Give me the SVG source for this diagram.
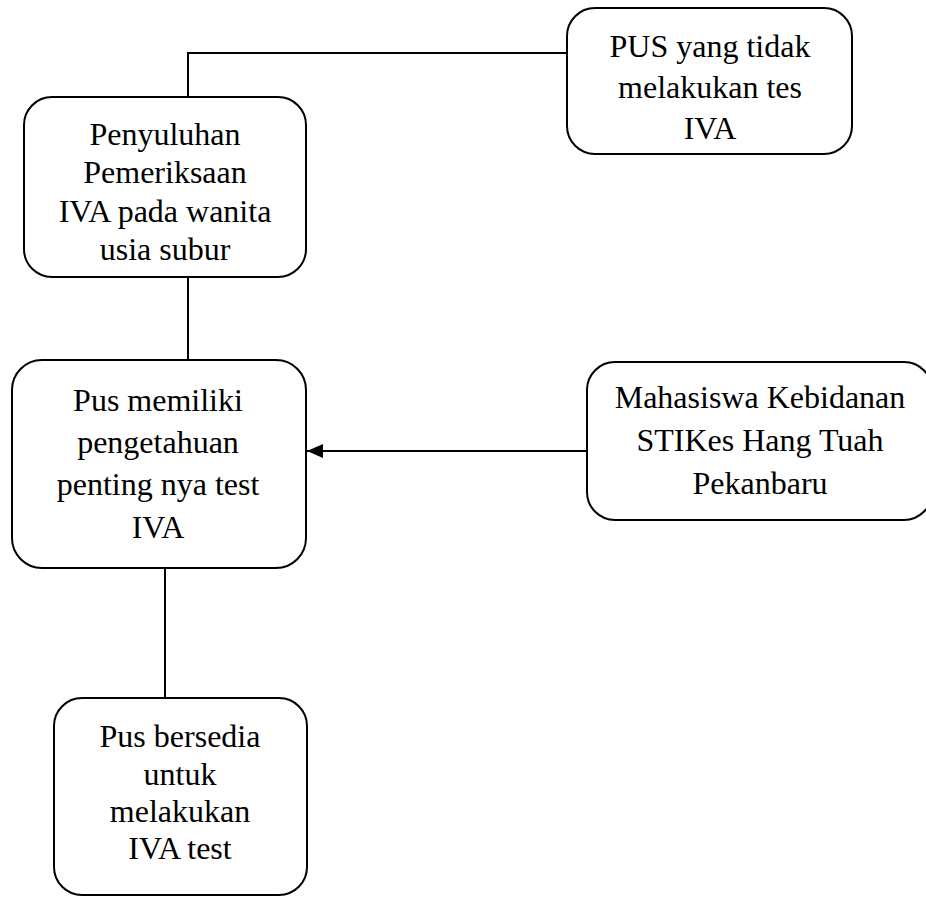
<svg xmlns="http://www.w3.org/2000/svg" width="926" height="897" viewBox="0 0 926 897">
<style>
.n{fill:#fff;stroke:#000;stroke-width:2}
.t{font-family:"Liberation Serif","Times New Roman",serif;font-size:32px;fill:#000;text-anchor:middle}
.c{fill:none;stroke:#000;stroke-width:2}
</style>
<defs>
<marker id="ah" markerWidth="16" markerHeight="14" refX="16" refY="7" orient="auto" markerUnits="userSpaceOnUse" viewBox="0 0 16 14">
<path d="M0,7 L16,0 L16,14 z" transform="rotate(180 8 7)" fill="#000"/>
</marker>
</defs>
<g id="connectors">
<path class="c" d="M188,97 V53 H567"/>
<path class="c" d="M188,277 V360"/>
<path class="c" d="M587,451 H307" stroke-width="3" marker-end="url(#ah)"/>
<path class="c" d="M165,568 V698"/>
</g>
<g id="n1">
<rect class="n" x="567" y="8" width="285" height="146" rx="28"/>
<text class="t" x="710" y="57">PUS yang tidak</text>
<text class="t" x="710" y="98">melakukan tes</text>
<text class="t" x="710" y="139">IVA</text>
</g>
<g id="n2">
<rect class="n" x="24" y="97" width="282" height="180" rx="28"/>
<text class="t" x="165" y="145">Penyuluhan</text>
<text class="t" x="165" y="183">Pemeriksaan</text>
<text class="t" x="165" y="222">IVA pada wanita</text>
<text class="t" x="165" y="260">usia subur</text>
</g>
<g id="n3">
<rect class="n" x="12" y="360" width="294" height="208" rx="30"/>
<text class="t" x="158" y="411">Pus memiliki</text>
<text class="t" x="158" y="453">pengetahuan</text>
<text class="t" x="158" y="495">penting nya test</text>
<text class="t" x="158" y="538">IVA</text>
</g>
<g id="n4">
<rect class="n" x="587" y="362" width="345" height="158" rx="28"/>
<text class="t" x="760" y="408">Mahasiswa Kebidanan</text>
<text class="t" x="760" y="451">STIKes Hang Tuah</text>
<text class="t" x="760" y="494">Pekanbaru</text>
</g>
<g id="n5">
<rect class="n" x="54" y="698" width="253" height="197" rx="28"/>
<text class="t" x="180" y="747">Pus bersedia</text>
<text class="t" x="180" y="785">untuk</text>
<text class="t" x="180" y="822">melakukan</text>
<text class="t" x="180" y="859">IVA test</text>
</g>
</svg>
